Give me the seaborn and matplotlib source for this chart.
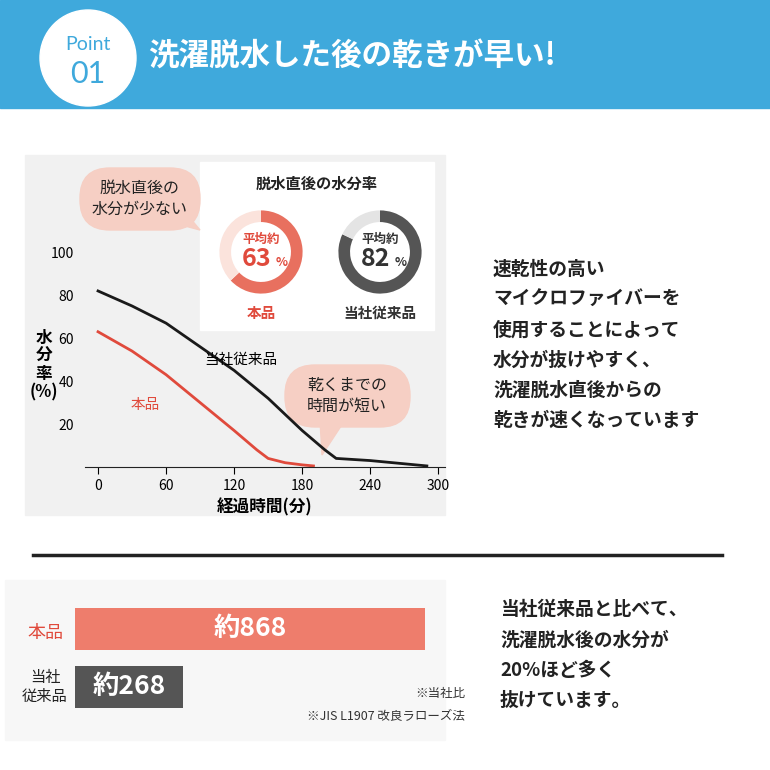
import matplotlib
matplotlib.use("Agg")
import matplotlib.pyplot as plt
import seaborn as sns
import pandas as pd
from matplotlib.patches import Rectangle, Circle, FancyBboxPatch, Polygon

plt.rcParams["font.family"] = ["Noto Sans CJK JP", "DejaVu Sans"]

# ---- data ----
time_min = [0, 30, 60, 90, 120, 150, 180, 200, 210, 240, 270, 290]
conventional = [82, 75, 67, 56, 45, 32, 17, 8, 4, 3, 1.5, 0.5]
time_red = [0, 30, 60, 90, 120, 140, 150, 165, 180, 190]
product = [63, 54, 43, 30, 17, 8, 4, 2, 1, 0.5]
x_ticks = [0, 60, 120, 180, 240, 300]
y_ticks = [20, 40, 60, 80, 100]
donut_labels = ["本品", "当社従来品"]
donut_values = [63, 82]
bar_labels = ["本品", "当社\n従来品"]
bar_values = [868, 268]

W = H = 770
fig = plt.figure(figsize=(7.7, 7.7), dpi=100)
fig.patch.set_facecolor("white")

def fx(x): return x / W
def fy(y): return 1 - y / H
def rect(x0, y0, x1, y1): return [fx(x0), fy(y1), fx(x1 - x0), (y1 - y0) / H]

bg = fig.add_axes([0, 0, 1, 1]); bg.set_xlim(0, W); bg.set_ylim(H, 0); bg.axis("off")
# banner
bg.add_patch(Rectangle((0, 0), W, 108, color="#3fa9dc"))
bg.add_patch(Circle((88, 58), 48, color="white"))
bg.text(88, 44, "Point", color="#3fa9dc", fontsize=14, ha="center", va="center", fontfamily="Lato")
bg.text(88, 74, "01", color="#3fa9dc", fontsize=22, ha="center", va="center", fontfamily="Lato")
bg.text(148, 57, "洗濯脱水した後の乾きが早い!", color="white", fontsize=22, fontweight="bold", ha="left", va="center")
# chart panel
bg.add_patch(Rectangle((25, 155), 420, 360, color="#f1f1f1"))
# inset box
bg.add_patch(Rectangle((200, 162), 234, 168, color="white"))
bg.text(317, 184, "脱水直後の水分率", fontsize=11, fontweight="bold", ha="center", va="center", color="#222")
# callouts
bg.add_patch(FancyBboxPatch((80, 168), 120, 62, boxstyle="round,pad=0,rounding_size=30", color="#f6cfc4"))
bg.add_patch(Polygon([[170, 222], [200, 230], [185, 212]], color="#f6cfc4"))
bg.text(140, 199, "脱水直後の\n水分が少ない", fontsize=11.5, ha="center", va="center", linespacing=1.3, color="#222")
bg.add_patch(FancyBboxPatch((285, 365), 125, 62, boxstyle="round,pad=0,rounding_size=30", color="#f6cfc4"))
bg.add_patch(Polygon([[320, 420], [345, 420], [322, 455]], color="#f6cfc4"))
bg.text(347, 396, "乾くまでの\n時間が短い", fontsize=11.5, ha="center", va="center", linespacing=1.3, color="#222")
# y label
bg.text(44, 365, "水\n分\n率\n(%)", fontsize=12, fontweight="bold", ha="center", va="center", linespacing=1.0)
# right text
bg.text(493, 345, "速乾性の高い\nマイクロファイバーを\n使用することによって\n水分が抜けやすく、\n洗濯脱水直後からの\n乾きが速くなっています",
        fontsize=13.5, fontweight="bold", ha="left", va="center", linespacing=1.75, color="#222")
# divider
bg.plot([33, 722], [555, 555], color="#222", lw=2.5)
bg.add_patch(Rectangle((5, 580), 440, 160, color="#f7f7f7"))
bg.text(500, 655, "当社従来品と比べて、\n洗濯脱水後の水分が\n20%ほど多く\n抜けています。",
        fontsize=13.5, fontweight="bold", ha="left", va="center", linespacing=1.75, color="#222")
bg.text(465, 693, "※当社比", fontsize=9, ha="right", va="center", color="#333")
bg.text(465, 716, "※JIS L1907 改良ラローズ法", fontsize=9, ha="right", va="center", color="#333")

# line chart
ax = fig.add_axes(rect(85, 160, 445, 467))
df1 = pd.DataFrame({"t": time_min, "v": conventional})
df2 = pd.DataFrame({"t": time_red, "v": product})
sns.lineplot(data=df1, x="t", y="v", ax=ax, color="#1a1a1a", lw=2)
sns.lineplot(data=df2, x="t", y="v", ax=ax, color="#e04a3c", lw=2)
ax.set_xlim(-11.5, 306); ax.set_ylim(0, 143)
ax.patch.set_alpha(0)
for s in ["top", "right", "left"]: ax.spines[s].set_visible(False)
ax.spines["bottom"].set_color("#222")
ax.set_xticks(x_ticks); ax.set_yticks(y_ticks)
ax.tick_params(axis="y", length=0, labelsize=10, pad=8)
ax.tick_params(axis="x", length=5, labelsize=10, direction="out")
ax.set_xlabel("経過時間(分)", fontsize=12, fontweight="bold", labelpad=4)
ax.set_ylabel("")
ax.text(126, 50, "当社従来品", fontsize=10.5, ha="center", va="center")
ax.text(42, 29, "本品", fontsize=10.5, ha="center", va="center", color="#e04a3c")

# donuts
colors = [("#e8705f", "#fbe3dc"), ("#555555", "#e4e4e4")]
for i, (lab, val) in enumerate(zip(donut_labels, donut_values)):
    cx = 261 if i == 0 else 380
    dax = fig.add_axes(rect(cx - 52, 200, cx + 52, 304))
    dax.pie([val, 100 - val], colors=colors[i], startangle=90, counterclock=False,
            wedgeprops=dict(width=0.28))
    dax.set_aspect("equal")
    c = "#e04a3c" if i == 0 else "#333"
    dax.text(0, 0.3, "平均約", fontsize=9, fontweight="bold", ha="center", va="center", color=c)
    dax.text(-0.1, -0.18, f"{val}", fontsize=18, fontweight="bold", ha="center", va="center", color=c)
    dax.text(0.5, -0.25, "%", fontsize=9, fontweight="bold", ha="center", va="center", color=c)
    bg.text(cx, 313, lab, fontsize=10.5, fontweight="bold", ha="center", va="center", color=c)

# bar chart
bx = fig.add_axes(rect(75, 600, 442, 716))
dfb = pd.DataFrame({"k": bar_labels, "v": bar_values})
sns.barplot(data=dfb, y="k", x="v", hue="k", palette=["#ee7d6c", "#555555"], orient="h", ax=bx,
            width=0.72, legend=False, saturation=1)
bx.set_xlim(0, 910)
bx.axis("off")
bx.text(bar_values[0] / 2, 0, "約868", fontsize=19, color="white", ha="center", va="center", fontweight="bold")
bx.text(bar_values[1] / 2, 1, "約268", fontsize=19, color="white", ha="center", va="center", fontweight="bold")
bg.text(45, 633, "本品", fontsize=13, color="#e04a3c", ha="center", va="center")
bg.text(45, 687, "当社\n従来品", fontsize=11, color="#222", ha="center", va="center", linespacing=1.2)

fig.savefig("out.png", dpi=100)
